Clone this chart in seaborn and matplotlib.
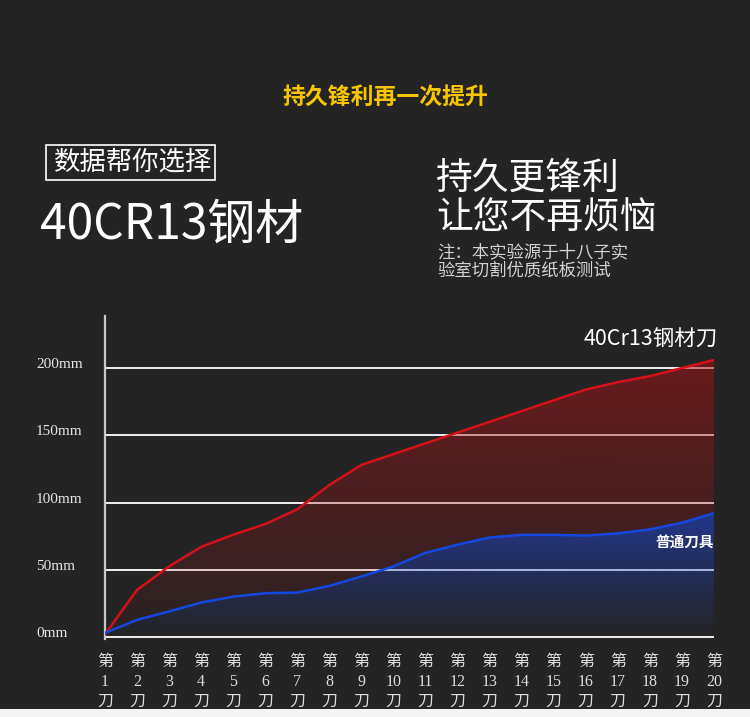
import numpy as np
import pandas as pd
import matplotlib
matplotlib.use("Agg")
import matplotlib.pyplot as plt
import seaborn as sns
from matplotlib.patches import PathPatch, Rectangle

# ---------------- data ----------------
knives = list(range(1, 21))
steel_40cr13 = [2, 35, 52.5, 67, 76, 84, 95, 113, 128, 136, 144, 152, 160, 168,
                176, 184, 189.5, 194, 200, 206]
ordinary_knife = [3, 12.7, 19, 25.6, 30, 32.6, 33, 38, 45, 52.5, 62.6, 68.6, 74,
                  76, 76, 75.4, 77, 80, 85, 92]
y_ticks = [0, 50, 100, 150, 200]
y_tick_labels = ["0mm", "50mm", "100mm", "150mm", "200mm"]
x_tick_labels = [f"第\n{i}\n刀" for i in knives]
series_names = ["40Cr13钢材刀", "普通刀具"]

# ---------------- style ----------------
BG = "#242424"
sns.set_theme(style="dark", rc={"axes.facecolor": BG, "figure.facecolor": BG})
plt.rcParams["font.family"] = ["Noto Sans CJK SC", "DejaVu Sans"]
SERIF = ["Liberation Serif", "Noto Sans CJK SC"]

W, H = 750, 717
fig = plt.figure(figsize=(W / 100, H / 100), dpi=100, facecolor=BG)

y_lo, y_hi = -1.5, 238.7
ax_bottom_px = 639
ax_top_px = 316
ax = fig.add_axes([105 / W, 1 - ax_bottom_px / H, (714 - 105) / W,
                   (ax_bottom_px - ax_top_px) / H])
ax.set_facecolor("none")

df = pd.DataFrame({
    "knife": knives * 2,
    "length": steel_40cr13 + ordinary_knife,
    "series": [series_names[0]] * len(knives) + [series_names[1]] * len(knives),
})

x = np.array(knives, dtype=float)
red = np.array(steel_40cr13)
blue = np.array(ordinary_knife)


def gradient_fill(ax, x, y_upper, y_lower, rgb, a_top, a_bottom, ymax, z):
    poly = ax.fill_between(x, y_upper, y_lower, facecolor="none", edgecolor="none")
    path = poly.get_paths()[0]
    patch = PathPatch(path, transform=ax.transData, facecolor="none", edgecolor="none")
    ax.add_patch(patch)
    n = 256
    t = np.linspace(1, 0, n)  # 1 top -> 0 bottom
    img = np.zeros((n, 1, 4))
    img[:, 0, :3] = np.array(rgb) / 255.0
    img[:, 0, 3] = a_bottom + (a_top - a_bottom) * t
    im = ax.imshow(img, aspect="auto", extent=[x.min(), x.max(), 0, ymax],
                   origin="upper", zorder=z, interpolation="bilinear")
    im.set_clip_path(patch)


gradient_fill(ax, x, red, blue, (170, 18, 20), 0.52, 0.04, red.max(), 2)
gradient_fill(ax, x, blue, np.zeros_like(blue), (34, 66, 200), 0.62, 0.0, blue.max(), 3)

sns.lineplot(data=df, x="knife", y="length", hue="series",
             palette={series_names[0]: "#d8101a", series_names[1]: "#1448e0"},
             linewidth=1.8, legend=False, ax=ax, zorder=5)

ax.set_xlim(1, 20)
ax.set_ylim(y_lo, y_hi)
ax.set_xlabel("")
ax.set_ylabel("")

ax.set_yticks(y_ticks)
ax.set_yticklabels(y_tick_labels, family=SERIF, fontsize=11, color="#e6e6e6",
                   ha="left", va="baseline")
ax.tick_params(axis="y", length=0, pad=69 * 0.72)
ax.yaxis.grid(True, color="white", linewidth=1.3)
ax.xaxis.grid(False)
ax.set_axisbelow(True)

ax.set_xticks(knives)
ax.set_xticklabels(x_tick_labels, family=SERIF, fontsize=11.5, color="#dddddd",
                   linespacing=1.3)
ax.tick_params(axis="x", length=0, pad=11)

for s in ["top", "right", "bottom"]:
    ax.spines[s].set_visible(False)
ax.spines["left"].set_visible(True)
ax.spines["left"].set_color("#c8c8c8")
ax.spines["left"].set_linewidth(1.6)


def ft(px, py, s, **kw):
    fig.text(px / W, 1 - py / H, s, **kw)


ft(385, 97, "持久锋利再一次提升", color="#f7c600", fontsize=16.5, weight="bold",
   ha="center", va="center")
fig.add_artist(Rectangle((46 / W, 1 - 180 / H), 169 / W, 35 / H,
                         transform=fig.transFigure, fill=False, ec="white", lw=1.2))
ft(54, 162, "数据帮你选择", color="white", fontsize=19, ha="left", va="center")
ft(40, 225, "40CR13钢材", color="white", fontsize=34.5, weight="light",
   ha="left", va="center")
ft(436, 178, "持久更锋利", color="white", fontsize=26.5, weight="light",
   ha="left", va="center")
ft(436, 218, "让您不再烦恼", color="white", fontsize=26.5, weight="light",
   ha="left", va="center")
ft(437, 252, "注：本实验源于十八子实", color="#d2d2d2", fontsize=12.5, ha="left", va="center")
ft(437, 271, "验室切割优质纸板测试", color="#d2d2d2", fontsize=12.5, ha="left", va="center")
ft(718, 340, series_names[0], color="white", fontsize=15.5, ha="right", va="center")
ft(714, 543, series_names[1], color="white", fontsize=10.5, weight="bold",
   ha="right", va="center")

fig.add_artist(Rectangle((0, 0), 1, 8 / H, transform=fig.transFigure,
                         fc="#f4f4f4", ec="none"))

fig.savefig("out.png", dpi=100, facecolor=BG)
